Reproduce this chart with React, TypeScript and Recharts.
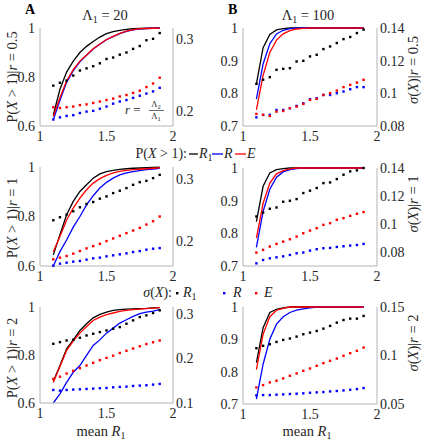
import React from "react";
import { ComposedChart, Line, Scatter, XAxis, YAxis } from "recharts";

const FONT = '"Liberation Serif", "Times New Roman", serif';
const INK = "#262626";
const AXIS = "#b4b4b4";
const BLACK = "#000000";
const BLUE = "#0000ff";
const RED = "#ff0000";

// mean R1 values (same grid in every panel)
const MEAN_R1 = [1.1, 1.15, 1.2, 1.25, 1.3, 1.35, 1.4, 1.45, 1.5, 1.55, 1.6, 1.65, 1.7, 1.75, 1.8, 1.85, 1.9];

// A: Lambda1 = 20, r = 0.5
const A_P_R1 = [0.645, 0.75, 0.82, 0.865, 0.9, 0.925, 0.945, 0.963, 0.977, 0.985, 0.99, 0.994, 0.997, 0.998, 0.999, 0.9995, 1];
const A_P_R = [0.625, 0.705, 0.778, 0.826, 0.862, 0.889, 0.914, 0.934, 0.952, 0.965, 0.977, 0.986, 0.992, 0.996, 0.998, 0.999, 1];
const A_P_E = [0.64, 0.715, 0.785, 0.83, 0.865, 0.89, 0.915, 0.935, 0.953, 0.966, 0.978, 0.987, 0.993, 0.997, 0.998, 0.999, 1];
const A_S_R1 = [0.235, 0.239, 0.242, 0.249, 0.256, 0.259, 0.262, 0.266, 0.272, 0.274, 0.278, 0.281, 0.286, 0.29, 0.298, 0.3, 0.308];
const A_S_R = [0.188, 0.191, 0.193, 0.194, 0.197, 0.199, 0.2, 0.203, 0.206, 0.21, 0.213, 0.215, 0.218, 0.221, 0.224, 0.227, 0.232];
const A_S_E = [0.205, 0.204, 0.205, 0.206, 0.208, 0.209, 0.211, 0.213, 0.215, 0.217, 0.22, 0.222, 0.225, 0.228, 0.233, 0.238, 0.246];

// B: Lambda1 = 100, r = 0.5
const B_P_R1 = [0.829, 0.94, 0.98, 0.994, 0.998, 1, 1, 1, 1, 1, 1, 1, 1, 1, 1, 1, 1];
const B_P_R = [0.782, 0.89, 0.952, 0.982, 0.993, 0.998, 0.9995, 1, 1, 1, 1, 1, 1, 1, 1, 1, 1];
const B_P_E = [0.749, 0.855, 0.925, 0.963, 0.982, 0.992, 0.997, 0.999, 1, 1, 1, 1, 1, 1, 1, 1, 1];
const B_S_R1 = [0.1058, 0.1083, 0.1099, 0.1144, 0.115, 0.1154, 0.1195, 0.1199, 0.1226, 0.1236, 0.1271, 0.1287, 0.1308, 0.1332, 0.1345, 0.1369, 0.139];
const B_S_R = [0.0853, 0.0868, 0.0868, 0.0898, 0.0898, 0.0909, 0.0923, 0.0939, 0.0964, 0.097, 0.099, 0.099, 0.1001, 0.1011, 0.1025, 0.1038, 0.1038];
const B_S_E = [0.0874, 0.0868, 0.0861, 0.0888, 0.0892, 0.0909, 0.0919, 0.0935, 0.096, 0.0966, 0.099, 0.1001, 0.1017, 0.1038, 0.1052, 0.1066, 0.1083];

// C: Lambda1 = 20, r = 1
const C_P_R1 = [0.645, 0.726, 0.807, 0.861, 0.901, 0.928, 0.955, 0.972, 0.981, 0.986, 0.99, 0.993, 0.995, 0.996, 0.997, 0.998, 0.999];
const C_P_R = [0.6, 0.658, 0.705, 0.757, 0.8, 0.847, 0.884, 0.915, 0.938, 0.955, 0.968, 0.976, 0.981, 0.985, 0.989, 0.992, 0.995];
const C_P_E = [0.658, 0.719, 0.786, 0.834, 0.874, 0.908, 0.935, 0.953, 0.966, 0.976, 0.982, 0.986, 0.989, 0.991, 0.993, 0.995, 0.997];
const C_S_R1 = [0.2335, 0.2383, 0.2426, 0.2479, 0.2543, 0.2596, 0.2628, 0.2681, 0.2718, 0.2771, 0.2809, 0.2851, 0.2904, 0.2947, 0.2968, 0.3011, 0.3064];
const C_S_R = [0.1605, 0.1638, 0.1654, 0.167, 0.1681, 0.1702, 0.1723, 0.1734, 0.1755, 0.1771, 0.1787, 0.1803, 0.1824, 0.184, 0.1862, 0.1878, 0.1888];
const C_S_E = [0.1707, 0.1734, 0.1761, 0.1798, 0.184, 0.1883, 0.192, 0.1957, 0.2, 0.2043, 0.2085, 0.2128, 0.217, 0.2213, 0.2266, 0.2319, 0.2395];

// D: Lambda1 = 100, r = 1
const D_P_R1 = [0.836, 0.944, 0.985, 0.995, 0.998, 1, 1, 1, 1, 1, 1, 1, 1, 1, 1, 1, 1];
const D_P_R = [0.757, 0.867, 0.935, 0.972, 0.988, 0.995, 0.998, 1, 1, 1, 1, 1, 1, 1, 1, 1, 1];
const D_P_E = [0.785, 0.892, 0.954, 0.982, 0.992, 0.997, 1, 1, 1, 1, 1, 1, 1, 1, 1, 1, 1];
const D_S_R1 = [0.1054, 0.1082, 0.1109, 0.1118, 0.1159, 0.1166, 0.1178, 0.1221, 0.1238, 0.1257, 0.1292, 0.1297, 0.1321, 0.1352, 0.1376, 0.1383, 0.14];
const D_S_R = [0.0719, 0.0743, 0.0755, 0.0762, 0.0769, 0.0779, 0.0791, 0.0796, 0.081, 0.082, 0.0827, 0.0829, 0.0836, 0.0841, 0.0846, 0.085, 0.0858];
const D_S_E = [0.0796, 0.0815, 0.0839, 0.0858, 0.0874, 0.0891, 0.091, 0.0934, 0.0953, 0.097, 0.0994, 0.1006, 0.103, 0.1042, 0.1058, 0.1073, 0.1085];

// E: Lambda1 = 20, r = 2
const E_P_R1 = [0.69, 0.756, 0.826, 0.863, 0.902, 0.93, 0.955, 0.969, 0.979, 0.986, 0.989, 0.991, 0.992, 0.993, 0.994, 0.996, 0.997];
const E_P_R = [0.6, 0.638, 0.686, 0.728, 0.756, 0.798, 0.84, 0.863, 0.891, 0.912, 0.933, 0.947, 0.961, 0.972, 0.979, 0.983, 0.989];
const E_P_E = [0.685, 0.752, 0.819, 0.858, 0.891, 0.919, 0.944, 0.958, 0.968, 0.975, 0.982, 0.986, 0.989, 0.991, 0.993, 0.995, 0.997];
const E_S_R1 = [0.2326, 0.2363, 0.24, 0.2416, 0.2461, 0.2513, 0.2551, 0.2588, 0.2625, 0.2663, 0.27, 0.2775, 0.285, 0.2925, 0.2963, 0.3015, 0.3075];
const E_S_R = [0.1292, 0.1277, 0.1292, 0.13, 0.1307, 0.1315, 0.1322, 0.133, 0.1337, 0.1352, 0.136, 0.1367, 0.1382, 0.139, 0.1397, 0.1412, 0.1427];
const E_S_E = [0.154, 0.159, 0.166, 0.172, 0.178, 0.184, 0.19, 0.196, 0.201, 0.206, 0.212, 0.217, 0.222, 0.227, 0.232, 0.236, 0.24];

// F: Lambda1 = 100, r = 2
const F_P_R1 = [0.828, 0.936, 0.983, 0.993, 0.997, 1, 1, 1, 1, 1, 1, 1, 1, 1, 1, 1, 1];
const F_P_R = [0.715, 0.823, 0.9, 0.947, 0.97, 0.983, 0.99, 0.994, 0.997, 1, 1, 1, 1, 1, 1, 1, 1];
const F_P_E = [0.806, 0.916, 0.97, 0.99, 0.996, 1, 1, 1, 1, 1, 1, 1, 1, 1, 1, 1, 1];
const F_S_R1 = [0.1075, 0.11, 0.1116, 0.114, 0.1161, 0.1175, 0.1195, 0.1219, 0.1236, 0.1253, 0.1277, 0.1305, 0.1339, 0.1366, 0.138, 0.138, 0.1408];
const F_S_R = [0.0589, 0.0592, 0.0592, 0.0596, 0.0599, 0.0603, 0.0606, 0.061, 0.0616, 0.062, 0.0623, 0.063, 0.0634, 0.064, 0.0647, 0.0654, 0.0664];
const F_S_E = [0.0671, 0.0695, 0.0723, 0.074, 0.0764, 0.0791, 0.0815, 0.0842, 0.0866, 0.0894, 0.0921, 0.0945, 0.0969, 0.0997, 0.1024, 0.1048, 0.1082];

type Row = { x: number; pR1: number; pR: number; pE: number; sR1: number; sR: number; sE: number };

function rows(p: number[][], s: number[][]): Row[] {
  return MEAN_R1.map((x, i) => ({
    x,
    pR1: p[0][i],
    pR: p[1][i],
    pE: p[2][i],
    sR1: s[0][i],
    sR: s[1][i],
    sE: s[2][i],
  }));
}

const square = (color: string) => (props: any) => (
  <rect x={props.cx - 1.2} y={props.cy - 1.2} width={2.4} height={2.4} fill={color} />
);

type PanelProps = {
  left: number;
  top: number;
  w: number;
  h: number;
  data: Row[];
  leftDomain: [number, number];
  leftTicks: number[];
  rightDomain: [number, number];
  rightTicks: number[];
};

const ML = 34;
const MR = 40;
const MT = 10;
const XH = 22;
const tickStyle = { fontSize: 14, fill: INK, fontFamily: FONT };

function Panel({ left, top, w, h, data, leftDomain, leftTicks, rightDomain, rightTicks }: PanelProps) {
  return (
    <div style={{ position: "absolute", left: left - ML, top: top - MT }}>
      <ComposedChart
        width={ML + w + MR}
        height={MT + h + XH}
        data={data}
        margin={{ top: MT, right: 0, bottom: 0, left: 0 }}
      >
        <XAxis
          type="number"
          dataKey="x"
          domain={[1, 2]}
          ticks={[1, 1.5, 2]}
          interval={0}
          height={XH}
          tickSize={0}
          tickMargin={5}
          tick={tickStyle}
          axisLine={{ stroke: AXIS }}
        />
        <YAxis
          yAxisId="left"
          orientation="left"
          type="number"
          domain={leftDomain}
          ticks={leftTicks}
          interval={0}
          width={ML}
          tickSize={0}
          tickMargin={5}
          tick={tickStyle}
          axisLine={{ stroke: AXIS }}
        />
        <YAxis
          yAxisId="right"
          orientation="right"
          type="number"
          domain={rightDomain}
          ticks={rightTicks}
          interval={0}
          width={MR}
          tickSize={0}
          tickMargin={3}
          tick={tickStyle}
          axisLine={{ stroke: AXIS }}
        />
        <Line yAxisId="left" dataKey="pR1" stroke={BLACK} strokeWidth={1.3} dot={false} isAnimationActive={false} />
        <Line yAxisId="left" dataKey="pR" stroke={BLUE} strokeWidth={1.3} dot={false} isAnimationActive={false} />
        <Line yAxisId="left" dataKey="pE" stroke={RED} strokeWidth={1.3} dot={false} isAnimationActive={false} />
        <Scatter yAxisId="right" dataKey="sR1" shape={square(BLACK)} isAnimationActive={false} />
        <Scatter yAxisId="right" dataKey="sR" shape={square(BLUE)} isAnimationActive={false} />
        <Scatter yAxisId="right" dataKey="sE" shape={square(RED)} isAnimationActive={false} />
      </ComposedChart>
    </div>
  );
}

function PLabel({ cy, r }: { cy: number; r: string }) {
  return (
    <text transform={`translate(17, ${cy}) rotate(-90)`} textAnchor="middle" fontSize={14.5}>
      P(<tspan fontStyle="italic">X</tspan> &gt; 1)|<tspan fontStyle="italic">r</tspan> = {r}
    </text>
  );
}

function SLabel({ cy, r }: { cy: number; r: string }) {
  return (
    <text transform={`translate(418, ${cy}) rotate(-90)`} textAnchor="middle" fontSize={14.5}>
      <tspan fontStyle="italic">σ</tspan>(<tspan fontStyle="italic">X</tspan>)|<tspan fontStyle="italic">r</tspan> = {r}
    </text>
  );
}

function Title({ x, value }: { x: number; value: string }) {
  return (
    <text x={x} y={20} fontSize={14.5} textAnchor="middle">
      Λ<tspan fontSize={10} dy={3}>1</tspan>
      <tspan dy={-3}> = {value}</tspan>
    </text>
  );
}

function MeanR1({ x }: { x: number }) {
  return (
    <text x={x} y={436} fontSize={14.5} textAnchor="middle">
      mean <tspan fontStyle="italic">R</tspan>
      <tspan fontSize={10} dy={2.5}>1</tspan>
    </text>
  );
}

function Annotations() {
  return (
    <svg
      width={423}
      height={440}
      style={{ position: "absolute", left: 0, top: 0, pointerEvents: "none" }}
      fontFamily={FONT}
      fill={INK}
    >
      <text x={25} y={14} fontSize={14} fontWeight="bold" fill="#000">A</text>
      <text x={228} y={14} fontSize={14} fontWeight="bold" fill="#000">B</text>
      <Title x={105} value="20" />
      <Title x={308} value="100" />

      <PLabel cy={77} r="0.5" />
      <PLabel cy={218} r="1" />
      <PLabel cy={358} r="2" />
      <SLabel cy={70} r="0.5" />
      <SLabel cy={204} r="1" />
      <SLabel cy={343} r="2" />

      {/* r = Lambda2 / Lambda1 */}
      <text x={125} y={114} fontSize={13}>
        <tspan fontStyle="italic">r</tspan> =
      </text>
      <text x={156} y={107} fontSize={8.5} textAnchor="middle">
        Λ<tspan fontSize={6.5} dy={2}>2</tspan>
      </text>
      <line x1={149} x2={164} y1={110.5} y2={110.5} stroke={INK} strokeWidth={0.7} />
      <text x={156} y={119} fontSize={8.5} textAnchor="middle">
        Λ<tspan fontSize={6.5} dy={2}>1</tspan>
      </text>

      {/* legend: P(X > 1) */}
      <text x={187} y={158} fontSize={14} textAnchor="end">
        P(<tspan fontStyle="italic">X</tspan> &gt; 1):
      </text>
      <line x1={189} x2={198} y1={154} y2={154} stroke={BLACK} strokeWidth={1.3} />
      <text x={199} y={158} fontSize={14}>
        <tspan fontStyle="italic">R</tspan>
        <tspan fontSize={10} dy={3}>1</tspan>
      </text>
      <line x1={212} x2={223} y1={154} y2={154} stroke={BLUE} strokeWidth={1.3} />
      <text x={224} y={158} fontSize={14} fontStyle="italic">R</text>
      <line x1={235} x2={246} y1={154} y2={154} stroke={RED} strokeWidth={1.3} />
      <text x={247} y={158} fontSize={14} fontStyle="italic">E</text>

      {/* legend: sigma(X) */}
      <text x={172} y={297} fontSize={14} textAnchor="end">
        <tspan fontStyle="italic">σ</tspan>(<tspan fontStyle="italic">X</tspan>):
      </text>
      <rect x={176} y={292} width={2.4} height={2.4} fill={BLACK} />
      <text x={183} y={297} fontSize={14}>
        <tspan fontStyle="italic">R</tspan>
        <tspan fontSize={10} dy={3}>1</tspan>
      </text>
      <rect x={223} y={292} width={2.4} height={2.4} fill={BLUE} />
      <text x={233} y={297} fontSize={14} fontStyle="italic">R</text>
      <rect x={255} y={292} width={2.4} height={2.4} fill={RED} />
      <text x={264} y={297} fontSize={14} fontStyle="italic">E</text>

      <MeanR1 x={101} />
      <MeanR1 x={307} />
    </svg>
  );
}

export default function App() {
  const COL1 = 40;
  const COL2 = 243;
  return (
    <div
      style={{
        position: "absolute",
        left: 0,
        top: 0,
        width: 423,
        height: 440,
        background: "#fff",
        fontFamily: FONT,
        overflow: "hidden",
      }}
    >
      <Panel left={COL1} top={28} w={133} h={98} data={rows([A_P_R1, A_P_R, A_P_E], [A_S_R1, A_S_R, A_S_E])}
        leftDomain={[0.6, 1]} leftTicks={[0.6, 0.8, 1]} rightDomain={[0.179, 0.315]} rightTicks={[0.2, 0.3]} />
      <Panel left={COL2} top={28} w={134} h={98} data={rows([B_P_R1, B_P_R, B_P_E], [B_S_R1, B_S_R, B_S_E])}
        leftDomain={[0.7, 1]} leftTicks={[0.7, 0.8, 0.9, 1]} rightDomain={[0.08, 0.14]} rightTicks={[0.08, 0.1, 0.12, 0.14]} />
      <Panel left={COL1} top={167} w={133} h={99} data={rows([C_P_R1, C_P_R, C_P_E], [C_S_R1, C_S_R, C_S_E])}
        leftDomain={[0.6, 1]} leftTicks={[0.6, 0.8, 1]} rightDomain={[0.16, 0.319]} rightTicks={[0.2, 0.3]} />
      <Panel left={COL2} top={168} w={134} h={98} data={rows([D_P_R1, D_P_R, D_P_E], [D_S_R1, D_S_R, D_S_E])}
        leftDomain={[0.7, 1]} leftTicks={[0.7, 0.8, 0.9, 1]} rightDomain={[0.07, 0.14]} rightTicks={[0.08, 0.1, 0.12, 0.14]} />
      <Panel left={COL1} top={307} w={133} h={96} data={rows([E_P_R1, E_P_R, E_P_E], [E_S_R1, E_S_R, E_S_E])}
        leftDomain={[0.6, 1]} leftTicks={[0.6, 0.8, 1]} rightDomain={[0.1, 0.315]} rightTicks={[0.1, 0.2, 0.3]} />
      <Panel left={COL2} top={307} w={134} h={97} data={rows([F_P_R1, F_P_R, F_P_E], [F_S_R1, F_S_R, F_S_E])}
        leftDomain={[0.7, 1]} leftTicks={[0.7, 0.8, 0.9, 1]} rightDomain={[0.05, 0.15]} rightTicks={[0.05, 0.1, 0.15]} />
      <Annotations />
    </div>
  );
}
